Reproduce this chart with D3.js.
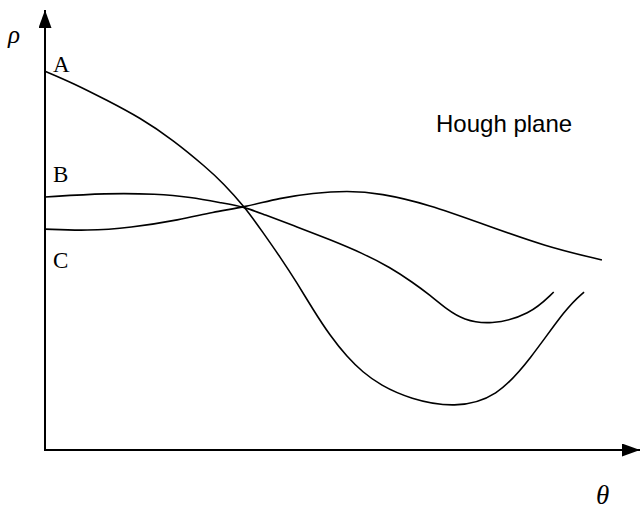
<!DOCTYPE html>
<meta charset="utf-8">
<style>
  body { margin: 0; background: #fff; }
  .curve { fill: none; stroke: #000; stroke-width: 1.6px; }
  .axisline { stroke: #000; stroke-width: 2px; }
</style>
<script src="https://d3js.org/d3.v7.min.js"></script>
<div id="chart"></div>
<script>
// curves in the Hough plane, theta and rho on a 0..100 scale
var curveA = [[0,86.1],[4.7,83.4],[10.4,79.5],[16.0,75.5],[21.5,70.5],[27.2,64.1],[29.9,60.7],[33.6,55.2],
  [36.6,49.5],[39.5,43.9],[42.4,37.9],[45.0,32.0],[47.9,26.0],[50.8,21.1],[53.4,17.7],[56.3,14.8],
  [61.3,11.6],[68.9,9.5],[76.0,12.0],[81.5,20.5],[87.7,32.5],[90.6,35.9]];
var curveB = [[0,57.5],[10.4,58.4],[18.8,58.2],[24.4,57.5],[29.9,56.1],[33.6,55.2],[36.6,53.6],[42.4,50.7],
  [47.9,47.8],[53.4,44.7],[58.0,41.5],[61.8,38.1],[64.7,35.2],[67.6,31.9],[70.3,29.6],[74.8,28.4],
  [81.5,30.7],[85.5,35.9]];
var curveC = [[0,50.2],[7.1,49.8],[14.3,50.5],[22.7,52.3],[28.2,54.1],[33.6,55.2],[39.5,57.3],[45.0,58.4],
  [50.8,58.9],[56.3,58.4],[64.7,55.7],[73.1,51.6],[84.4,46.1],[93.6,43.2]];
var curveLabels = ["A", "B", "C"];

var width = 642, height = 509;

var svg = d3.select("#chart")
  .append("svg")
    .attr("width", width)
    .attr("height", height);

var x = d3.scaleLinear().domain([0, 100]).range([45, 640]);
var y = d3.scaleLinear().domain([0, 100]).range([450, 10]);

// arrow heads
var defs = svg.append("defs");
defs.append("marker")
    .attr("id", "arrow")
    .attr("viewBox", "0 0 18 13")
    .attr("refX", 18)
    .attr("refY", 6.5)
    .attr("markerWidth", 18)
    .attr("markerHeight", 13)
    .attr("markerUnits", "userSpaceOnUse")
    .attr("orient", "auto")
  .append("path")
    .attr("d", "M0,0 L18,6.5 L0,13 Z")
    .attr("fill", "#000");

// axes
svg.append("line")
    .attr("class", "axisline")
    .attr("x1", x(0)).attr("y1", y(0))
    .attr("x2", x(0)).attr("y2", y(100))
    .attr("marker-end", "url(#arrow)");
svg.append("line")
    .attr("class", "axisline")
    .attr("x1", x(0) - 1).attr("y1", y(0))
    .attr("x2", x(100)).attr("y2", y(0))
    .attr("marker-end", "url(#arrow)");

var line = d3.line()
  .x(function(d) { return x(d[0]); })
  .y(function(d) { return y(d[1]); })
  .curve(d3.curveBasis);

svg.selectAll(".curve")
  .data([curveA, curveB, curveC])
  .enter()
  .append("path")
    .attr("class", "curve")
    .attr("d", line);

// labels
svg.selectAll(".clabel")
  .data(curveLabels)
  .enter()
  .append("text")
    .attr("class", "clabel")
    .attr("x", 53)
    .attr("y", function(d, i) { return [72, 182, 268][i]; })
    .style("font-family", "'Liberation Serif', 'Times New Roman', serif")
    .style("font-size", "23px")
    .text(function(d) { return d; });

svg.append("text")
    .attr("x", 8)
    .attr("y", 43)
    .style("font-family", "'Liberation Serif', 'Times New Roman', serif")
    .style("font-style", "italic")
    .style("font-size", "25px")
    .text("ρ");

svg.append("text")
    .attr("x", 596)
    .attr("y", 504)
    .style("font-family", "'Liberation Serif', 'Times New Roman', serif")
    .style("font-style", "italic")
    .style("font-size", "27px")
    .text("θ");

svg.append("text")
    .attr("x", 436)
    .attr("y", 132)
    .style("font-family", "'Liberation Sans', Arial, sans-serif")
    .style("font-size", "24px")
    .text("Hough plane");
</script>
